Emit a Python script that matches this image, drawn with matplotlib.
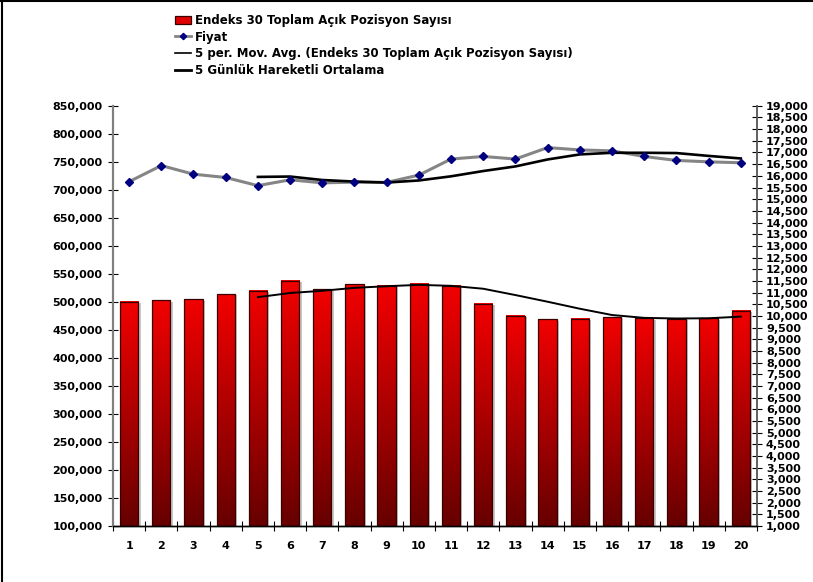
import numpy as np
import pandas as pd
import matplotlib
matplotlib.use("Agg")
import matplotlib.pyplot as plt
from matplotlib.lines import Line2D
from matplotlib.patches import Patch, Rectangle
from matplotlib.ticker import FuncFormatter, MultipleLocator

# ── Data ──────────────────────────────────────────────────────────────────
days = list(range(1, 21))
open_pos = [500000, 503000, 505000, 514000, 520000, 537500, 522500, 531500, 528500, 532000,
            529000, 496500, 475000, 469000, 469500, 473000, 471000, 469500, 471000, 484000]
price = [15750, 16440, 16070, 15930, 15580, 15830, 15700, 15730, 15720, 16030,
         16720, 16830, 16720, 17210, 17110, 17070, 16830, 16660, 16600, 16560]

LBL_BARS = "Endeks 30 Toplam Açık Pozisyon Sayısı"
LBL_PRICE = "Fiyat"
LBL_MA_BARS = "5 per. Mov. Avg. (Endeks 30 Toplam Açık Pozisyon Sayısı)"
LBL_MA_PRICE = "5 Günlük Hareketli Ortalama"

ma_bars = pd.Series(open_pos).rolling(5).mean()
ma_price = pd.Series(price).rolling(5).mean()

# ── Figure ────────────────────────────────────────────────────────────────
plt.rcParams["font.family"] = "DejaVu Sans"
plt.rcParams["font.weight"] = "bold"

fig = plt.figure(figsize=(8.13, 5.82), dpi=100)
# frame: only top and left edges are visible in the original
fig.add_artist(Line2D([0.003, 0.003], [0, 1], color="black", linewidth=1.5,
                      transform=fig.transFigure))
fig.add_artist(Line2D([0, 1], [0.999, 0.999], color="black", linewidth=1.5,
                      transform=fig.transFigure))

ax = fig.add_axes([0.139, 0.0962, 0.792, 0.722])
ax2 = ax.twinx()

Y0, Y1 = 100000, 850000

# bars with vertical gradient
W = 0.57
grad = np.linspace(0, 1, 256).reshape(-1, 1)
top = np.array([0.95, 0.0, 0.0])
bot = np.array([0.40, 0.0, 0.0])
img = (bot + (top - bot) * grad)[:, None, :]
img = np.repeat(img, 2, axis=1)
for x, h in zip(days, open_pos):
    ax.add_patch(Rectangle((x - W / 2 + 0.07, Y0), W, h - Y0 - 2500,
                           facecolor="#c8c8c8", edgecolor="none", zorder=1))
    ax.imshow(img, extent=[x - W / 2, x + W / 2, Y0, h], origin="lower",
              aspect="auto", zorder=2, interpolation="bilinear")
    ax.add_patch(Rectangle((x - W / 2, Y0), W, h - Y0, facecolor="none",
                           edgecolor="#3a0000", linewidth=0.9, zorder=3))
ax.set_aspect("auto")
ax.set_xlim(0.5, 20.5)
ax.set_ylim(Y0, Y1)
ax2.set_ylim(1000, 19000)

ax.plot(days, ma_bars, color="black", linewidth=1.4, zorder=4)

ax2.plot(days, price, color="#858585", linewidth=2.2, zorder=3)
ax2.plot(days, price, linestyle="none", marker="D", markersize=3.6,
         color="#000080", zorder=5)
ax2.plot(days, ma_price, color="black", linewidth=1.9, zorder=4)

# ── Axes styling ──────────────────────────────────────────────────────────
fmt = FuncFormatter(lambda v, p: f"{int(v):,}")
ax.yaxis.set_major_locator(MultipleLocator(50000))
ax.yaxis.set_major_formatter(fmt)
ax2.yaxis.set_major_locator(MultipleLocator(500))
ax2.yaxis.set_major_formatter(fmt)

ax.set_xticks(days)
ax.set_xticks(np.arange(0.5, 21, 1), minor=True)
ax.tick_params(axis="x", which="major", length=0, pad=11, labelsize=8)
ax.tick_params(axis="x", which="minor", direction="inout", length=7, width=0.8)
ax.tick_params(axis="y", direction="inout", length=7, width=0.8, labelsize=8, pad=4)
ax2.tick_params(axis="y", direction="inout", length=7, width=0.8, labelsize=8, pad=3)
for lab in ax.get_xticklabels() + ax.get_yticklabels() + ax2.get_yticklabels():
    lab.set_fontweight("bold")

for a in (ax, ax2):
    a.spines["top"].set_visible(False)
    a.spines["left"].set_color("#808080")
    a.spines["left"].set_linewidth(1.5)
    a.spines["right"].set_color("#606060")
    a.spines["right"].set_linewidth(1.2)
    a.spines["bottom"].set_color("black")
    a.spines["bottom"].set_linewidth(1.0)

# ── Legend ────────────────────────────────────────────────────────────────
handles = [
    Patch(facecolor="#e00000", edgecolor="#3a0000", linewidth=0.9),
    Line2D([], [], color="#858585", linewidth=2.0, marker="D", markersize=3.2,
           markerfacecolor="#000080", markeredgecolor="#000080"),
    Line2D([], [], color="black", linewidth=1.2),
    Line2D([], [], color="black", linewidth=2.0),
]
fig.legend(handles, [LBL_BARS, LBL_PRICE, LBL_MA_BARS, LBL_MA_PRICE],
           loc="upper left", bbox_to_anchor=(0.205, 0.99), frameon=False,
           prop={"size": 8.5, "weight": "bold"}, handlelength=1.4,
           handletextpad=0.3, labelspacing=0.3, borderpad=0.2)

plt.savefig("out.png", dpi=100)
